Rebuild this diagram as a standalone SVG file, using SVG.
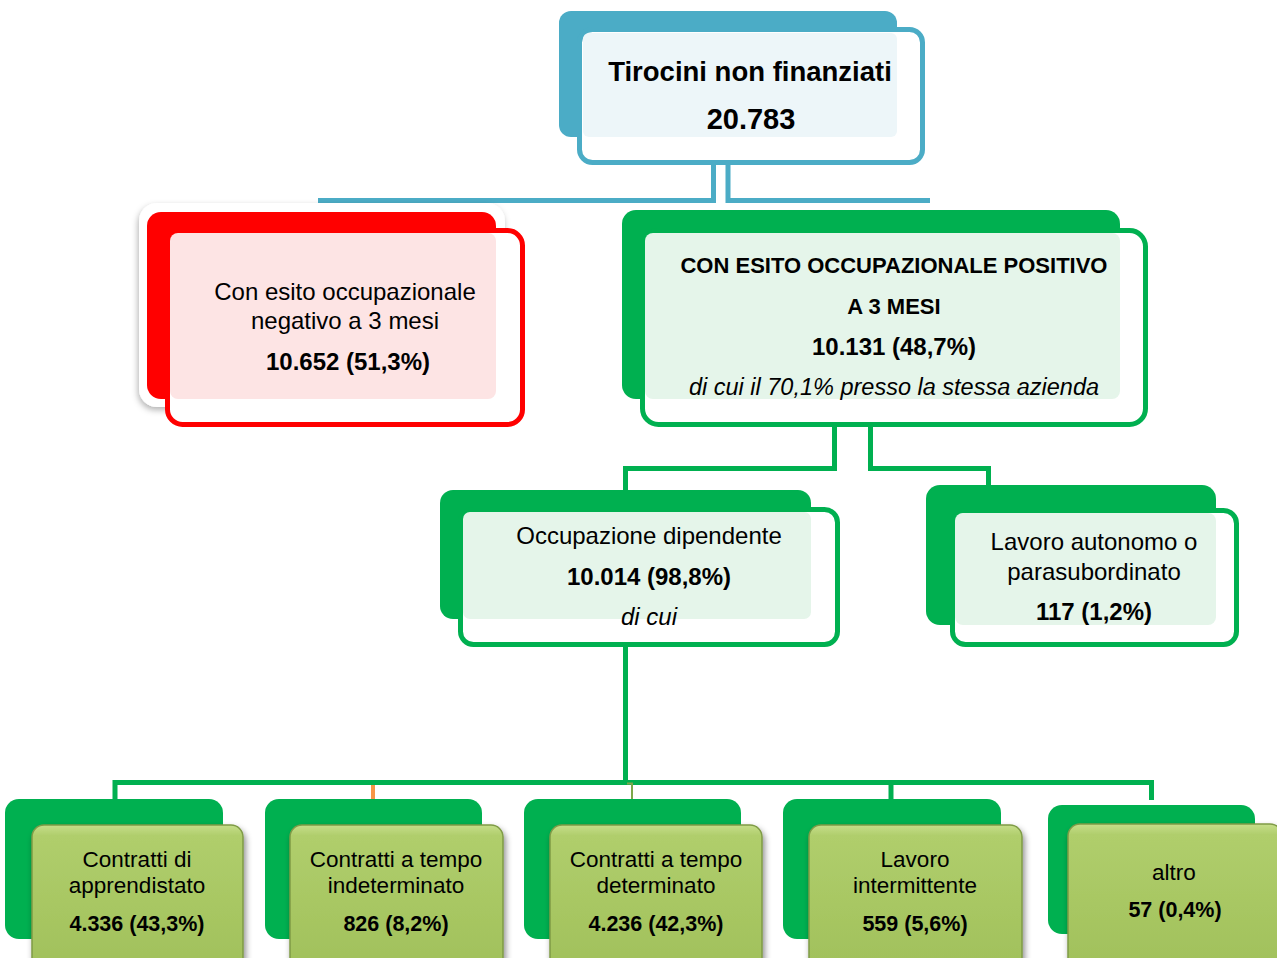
<svg xmlns="http://www.w3.org/2000/svg" width="1277" height="958" viewBox="0 0 1277 958">
<defs>
<linearGradient id="olive" x1="0" y1="0" x2="0" y2="1">
<stop offset="0" stop-color="#C6DE8A"/>
<stop offset="0.07" stop-color="#B0CE6C"/>
<stop offset="1" stop-color="#A0C05A"/>
</linearGradient>
<filter id="sh" x="-10%" y="-10%" width="130%" height="130%">
<feDropShadow dx="2" dy="4" stdDeviation="3" flood-color="#000" flood-opacity="0.45"/>
</filter>
<filter id="glow" x="-10%" y="-10%" width="120%" height="125%">
<feDropShadow dx="-1" dy="3" stdDeviation="3" flood-color="#000" flood-opacity="0.3"/>
</filter>
<style>
text{font-family:"Liberation Sans",Arial,sans-serif;fill:#000;text-anchor:middle}
.b{font-weight:bold}
.i{font-style:italic}
.teal{fill:#4BACC6}
.green{fill:#00B050}
.red{fill:#FF0000}
.ot{fill:#FFFFFF;stroke-width:5}
.ln{fill:none;stroke-width:5;stroke-linejoin:miter}
.bot{fill:url(#olive);stroke:#7F9B46;stroke-width:1.5;filter:url(#sh)}
</style>
</defs>

<g id="connectors">
<rect x="711" y="143" width="5" height="20" fill="#D3EBF2"/>
<rect x="725.5" y="143" width="5" height="20" fill="#D3EBF2"/>
<polyline class="ln" stroke="#4BACC6" points="713.5,163 713.5,200.5 318,200.5"/>
<polyline class="ln" stroke="#4BACC6" points="728,163 728,200.5 930,200.5"/>
<rect x="832" y="405" width="5" height="18" fill="#D5F0DE"/>
<rect x="868" y="405" width="5" height="18" fill="#D5F0DE"/>
<polyline class="ln" stroke="#00B050" points="834.5,425 834.5,468.5 625.5,468.5 625.5,490"/>
<polyline class="ln" stroke="#00B050" points="870.5,425 870.5,468.5 988.5,468.5 988.5,486"/>
<rect x="623" y="627" width="5" height="16" fill="#D5F0DE"/>
<polyline class="ln" stroke="#00B050" points="625.5,645 625.5,782.5"/>
<polyline class="ln" stroke="#00B050" points="115,800 115,782.5 1151.5,782.5 1151.5,800"/>
<line x1="373" y1="785" x2="373" y2="800" stroke="#F79646" stroke-width="4"/>
<polyline fill="none" stroke="#7DA84A" stroke-width="2" points="627,783.5 632,783.5 632,800"/>
<line x1="891" y1="785" x2="891" y2="800" stroke="#00B050" stroke-width="5"/>
</g>

<g id="node-tirocini">
<rect class="teal" x="559" y="11" width="338" height="126" rx="12"/>
<rect class="ot" stroke="#4BACC6" x="579.5" y="29.5" width="343" height="133" rx="13"/>
<rect x="583" y="33" width="314" height="104" rx="6" fill="#EDF6F9"/>
<text class="b" x="750" y="81" font-size="27.5">Tirocini non finanziati</text>
<text class="b" x="751" y="129" font-size="29">20.783</text>
</g>

<g id="node-negativo">
<rect x="139" y="203" width="366" height="204" rx="18" fill="#FFFFFF" filter="url(#glow)"/>
<rect class="red" x="147" y="212" width="349" height="187" rx="14"/>
<rect class="ot" stroke="#FF0000" x="167.5" y="230.5" width="355" height="194" rx="15"/>
<rect x="170" y="233" width="326" height="166" rx="8" fill="#FDE4E4"/>
<text x="345" y="300" font-size="24">Con esito occupazionale</text>
<text x="345" y="329" font-size="24">negativo a 3 mesi</text>
<text class="b" x="348" y="370" font-size="24">10.652 (51,3%)</text>
</g>

<g id="node-positivo">
<rect class="green" x="622" y="210" width="498" height="189" rx="14"/>
<rect class="ot" stroke="#00B050" x="642.5" y="230.5" width="503" height="194" rx="16"/>
<rect x="645" y="233" width="475" height="166" rx="8" fill="#E5F5EA"/>
<text class="b" x="894" y="273" font-size="22">CON ESITO OCCUPAZIONALE POSITIVO</text>
<text class="b" x="894" y="314" font-size="22">A 3 MESI</text>
<text class="b" x="894" y="355" font-size="24">10.131 (48,7%)</text>
<text class="i" x="894" y="395" font-size="23.5">di cui il 70,1% presso la stessa azienda</text>
</g>

<g id="node-dipendente">
<rect class="green" x="440" y="490" width="371" height="129" rx="13"/>
<rect class="ot" stroke="#00B050" x="460.5" y="509.5" width="377" height="135" rx="13"/>
<rect x="463" y="512" width="348" height="107" rx="7" fill="#E5F5EA"/>
<text x="649" y="544" font-size="24">Occupazione dipendente</text>
<text class="b" x="649" y="585" font-size="24">10.014 (98,8%)</text>
<text class="i" x="649" y="625" font-size="24">di cui</text>
</g>

<g id="node-autonomo">
<rect class="green" x="926" y="485" width="290" height="140" rx="14"/>
<rect class="ot" stroke="#00B050" x="952.5" y="510.5" width="284" height="134" rx="13"/>
<rect x="955" y="513" width="261" height="112" rx="8" fill="#E5F5EA"/>
<text x="1094" y="550" font-size="24">Lavoro autonomo o</text>
<text x="1094" y="580" font-size="24">parasubordinato</text>
<text class="b" x="1094" y="620" font-size="24">117 (1,2%)</text>
</g>

<g id="node-apprendistato">
<rect class="green" x="5" y="799" width="218" height="140" rx="14"/>
<rect class="bot" x="32" y="825" width="211" height="150" rx="12"/>
<text x="137" y="867" font-size="22.5">Contratti di</text>
<text x="137" y="893" font-size="22.5">apprendistato</text>
<text class="b" x="137" y="931" font-size="21.5">4.336 (43,3%)</text>
</g>

<g id="node-indeterminato">
<rect class="green" x="265" y="799" width="217" height="140" rx="14"/>
<rect class="bot" x="290" y="825" width="213" height="150" rx="12"/>
<text x="396" y="867" font-size="22.5">Contratti a tempo</text>
<text x="396" y="893" font-size="22.5">indeterminato</text>
<text class="b" x="396" y="931" font-size="21.5">826 (8,2%)</text>
</g>

<g id="node-determinato">
<rect class="green" x="524" y="799" width="217" height="140" rx="14"/>
<rect class="bot" x="550" y="825" width="212" height="150" rx="12"/>
<text x="656" y="867" font-size="22.5">Contratti a tempo</text>
<text x="656" y="893" font-size="22.5">determinato</text>
<text class="b" x="656" y="931" font-size="21.5">4.236 (42,3%)</text>
</g>

<g id="node-intermittente">
<rect class="green" x="783" y="799" width="218" height="140" rx="14"/>
<rect class="bot" x="809" y="825" width="213" height="150" rx="12"/>
<text x="915" y="867" font-size="22.5">Lavoro</text>
<text x="915" y="893" font-size="22.5">intermittente</text>
<text class="b" x="915" y="931" font-size="21.5">559 (5,6%)</text>
</g>

<g id="node-altro">
<rect class="green" x="1048" y="805" width="207" height="129" rx="14"/>
<rect class="bot" x="1068" y="824" width="214" height="150" rx="12"/>
<text x="1174" y="880" font-size="22.5">altro</text>
<text class="b" x="1175" y="917" font-size="21.5">57 (0,4%)</text>
</g>
</svg>
